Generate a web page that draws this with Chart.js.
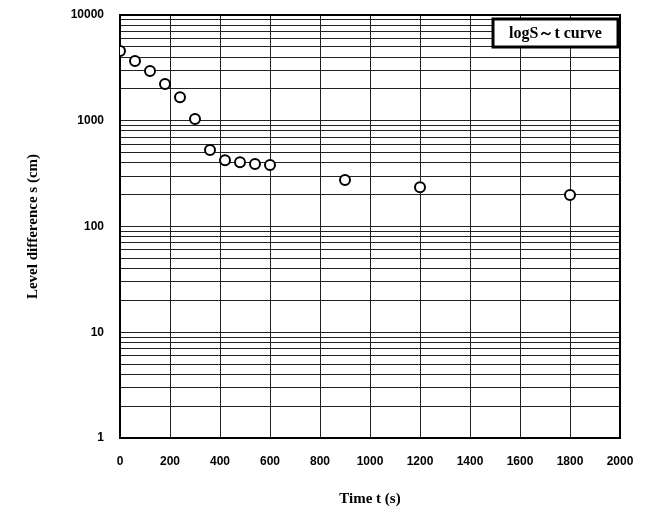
<!DOCTYPE html>
<html>
<head>
<meta charset="utf-8">
<script src="https://cdn.jsdelivr.net/npm/chart.js@4.4.1/dist/chart.umd.min.js"></script>
<style>
  html, body { margin: 0; padding: 0; background: #fff; }
  #c { display: block; }
</style>
</head>
<body>
<canvas id="c" width="649" height="515"></canvas>
<script>
// Pumping test record: level difference against elapsed time
const times = [0, 60, 120, 180, 240, 300, 360, 420, 480, 540, 600, 900, 1200, 1800];
const levels = [4570, 3670, 2950, 2230, 1670, 1040, 528, 423, 405, 390, 382, 275, 235, 199];

// Axis ticks
const yDecades = [1, 10, 100, 1000, 10000];
const yMinorFactors = [2, 3, 4, 5, 6, 7, 8, 9];
const xTickStep = 200;
const xMin = 0, xMax = 2000;

const seriesLabel = 'logS\uFF5Et curve';

// all grid positions on the log axis: each decade plus its 2..9 multiples
const yGrid = [];
yDecades.forEach((d, i) => {
  yGrid.push(d);
  if (i < yDecades.length - 1) yMinorFactors.forEach(f => yGrid.push(d * f));
});

const serif = "'Liberation Serif', 'Times New Roman', serif";
const sans = "'Liberation Sans', Arial, sans-serif";

// framed caption in the upper-right corner of the plot
const captionBox = {
  id: 'captionBox',
  afterDraw(chart) {
    const { ctx, chartArea } = chart;
    const w = 125, h = 28;
    const x = chartArea.right - w - 2, y = chartArea.top + 4;
    ctx.save();
    ctx.fillStyle = '#fff';
    ctx.fillRect(x, y, w, h);
    ctx.lineWidth = 3;
    ctx.strokeStyle = '#000';
    ctx.strokeRect(x, y, w, h);
    ctx.fillStyle = '#000';
    ctx.font = 'bold 16px ' + serif;
    ctx.textAlign = 'center';
    ctx.textBaseline = 'middle';
    ctx.fillText(chart.data.datasets[0].label, x + w / 2, y + h / 2 + 1);
    ctx.restore();
  }
};

// heavy frame round the plotting area
const plotFrame = {
  id: 'plotFrame',
  beforeDatasetsDraw(chart) {
    const { ctx, chartArea: a } = chart;
    ctx.save();
    ctx.lineWidth = 2;
    ctx.strokeStyle = '#000';
    ctx.strokeRect(a.left, a.top, a.right - a.left, a.bottom - a.top);
    ctx.restore();
  }
};

new Chart(document.getElementById('c'), {
  type: 'scatter',
  data: {
    datasets: [{
      label: seriesLabel,
      data: times.map((t, i) => ({ x: t, y: levels[i] })),
      showLine: false,
      pointStyle: 'circle',
      pointRadius: 5,
      pointBorderWidth: 2,
      pointBackgroundColor: '#fff',
      pointBorderColor: '#000'
    }]
  },
  options: {
    responsive: false,
    animation: false,
    layout: { padding: { top: 15, right: 29, bottom: 0, left: 0 } },
    plugins: {
      legend: { display: false },
      tooltip: { enabled: false }
    },
    scales: {
      x: {
        type: 'linear',
        min: xMin,
        max: xMax,
        afterFit(scale) {
          scale.height = 77;
          scale.paddingLeft = 0;
          scale.paddingRight = 0;
        },
        grid: { color: '#222', lineWidth: 1, drawTicks: false },
        border: { display: false },
        ticks: {
          stepSize: xTickStep,
          padding: 16,
          color: '#000',
          font: { family: sans, size: 12, weight: 'bold' },
          callback: v => String(v)
        },
        title: {
          display: true,
          text: 'Time t (s)',
          color: '#000',
          font: { family: serif, size: 15, weight: 'bold' },
          padding: { top: 0, bottom: 7 }
        }
      },
      y: {
        type: 'logarithmic',
        min: 1,
        max: 10000,
        afterBuildTicks(scale) { scale.ticks = yGrid.map(v => ({ value: v })); },
        afterFit(scale) {
          scale.width = 120;
          scale.paddingTop = 0;
          scale.paddingBottom = 0;
        },
        grid: {
          color: '#222',
          lineWidth: 1,
          drawTicks: false
        },
        border: { display: false },
        ticks: {
          autoSkip: false,
          padding: 16,
          color: '#000',
          font: { family: sans, size: 12, weight: 'bold' },
          callback: v => (yDecades.includes(v) ? String(v) : '')
        },
        title: {
          display: true,
          text: 'Level difference s (cm)',
          color: '#000',
          font: { family: serif, size: 15, weight: 'bold' },
          padding: { top: 24, bottom: 0 }
        }
      }
    }
  },
  plugins: [plotFrame, captionBox]
});
</script>
</body>
</html>
